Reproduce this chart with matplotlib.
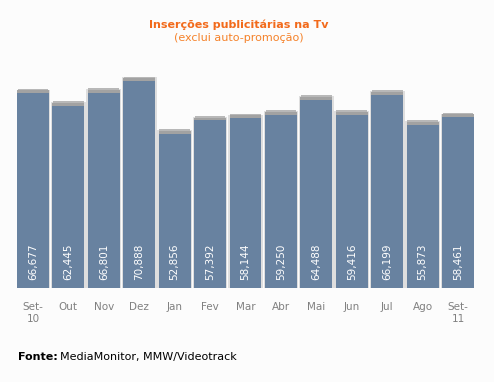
import matplotlib.pyplot as plt

months = ["Set-\n10", "Out", "Nov", "Dez", "Jan", "Fev", "Mar", "Abr",
          "Mai", "Jun", "Jul", "Ago", "Set-\n11"]
values = [66677, 62445, 66801, 70888, 52856, 57392, 58144, 59250,
          64488, 59416, 66199, 55873, 58461]
labels = ["66,677", "62,445", "66,801", "70,888", "52,856", "57,392", "58,144",
          "59,250", "64,488", "59,416", "66,199", "55,873", "58,461"]

bg = "#fcfcfc"
fig = plt.figure(figsize=(4.94, 3.82), dpi=100, facecolor=bg)
ax = fig.add_axes([17 / 494, 94 / 382, 457 / 494, 218 / 382])
ax.set_facecolor(bg)

x = list(range(len(values)))
w = 0.9
cap = 1400

# soft shadow around the bars, grey cap on top, then the bar itself
ax.bar(x, [v + cap * 0.9 for v in values], width=w + 0.08, color="#dedede", zorder=1)
ax.bar(x, [cap * 0.5] * len(values), bottom=[v + cap * 0.6 for v in values],
       width=w - 0.03, color="#b8b8b8", zorder=2)
ax.bar(x, [cap * 0.7] * len(values), bottom=values, width=w, color="#a2a2a2", zorder=2)
ax.bar(x, values, width=w, color="#6882a0", zorder=3)

for xi, lab in zip(x, labels):
    ax.text(xi, 2600, lab, rotation=90, ha="center", va="bottom",
            color="white", fontsize=7.5, zorder=4)

ax.set_xlim(-w / 2, len(values) - 1 + w / 2)
ax.set_ylim(0, 74660)
ax.set_xticks(x)
ax.set_xticklabels(months, fontsize=7.5, color="#808080", linespacing=1.25)
ax.tick_params(axis="x", length=0, pad=10)
ax.set_yticks([])
for s in ax.spines.values():
    s.set_visible(False)

fig.text(239 / 494, 1 - 25 / 382, "Inserções publicitárias na Tv", ha="center",
         va="center", fontsize=8, fontweight="bold", color="#f26a1b")
fig.text(239 / 494, 1 - 38 / 382, "(exclui auto-promoção)", ha="center",
         va="center", fontsize=8, color="#f5822a")

fig.text(18 / 494, 1 - 357 / 382, "Fonte:", ha="left", va="center",
         fontsize=8, fontweight="bold", color="black")
fig.text(60 / 494, 1 - 357 / 382, "MediaMonitor, MMW/Videotrack", ha="left",
         va="center", fontsize=8, color="black")

fig.savefig("out.png", dpi=100, facecolor=bg)
